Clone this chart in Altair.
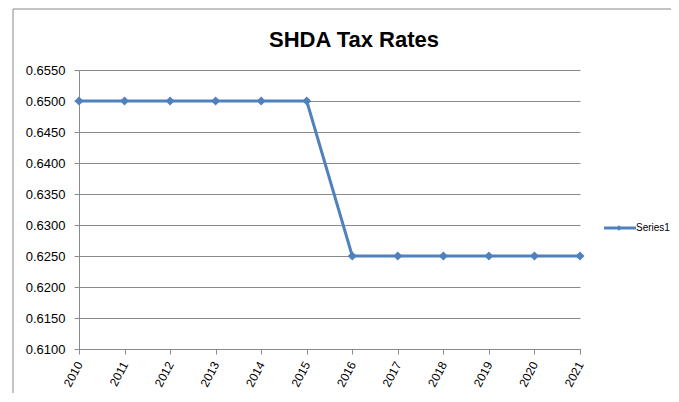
import altair as alt
import pandas as pd

years = ["2010", "2011", "2012", "2013", "2014", "2015",
         "2016", "2017", "2018", "2019", "2020", "2021"]
rates = [0.6500, 0.6500, 0.6500, 0.6500, 0.6500, 0.6500,
         0.6250, 0.6250, 0.6250, 0.6250, 0.6250, 0.6250]
series_names = ["Series1"]
chart_title = ["SHDA Tax Rates"]
y_ticks = [0.6100, 0.6150, 0.6200, 0.6250, 0.6300, 0.6350,
           0.6400, 0.6450, 0.6500, 0.6550]

BLUE = "#4F81BD"
GRID = "#8a8a8a"
FONT = "Liberation Sans"

df = pd.DataFrame({"Year": years, "Rate": rates, "Series": series_names[0]})
leg = pd.DataFrame({"Series": series_names})
ttl = pd.DataFrame({"Title": chart_title})

W, H = 501, 279

x_enc = alt.X(
    "Year:O",
    sort=years,
    scale=alt.Scale(type="point", padding=0),
    axis=alt.Axis(
        title=None, grid=False, labelAngle=-62, labelAlign="right",
        labelBaseline="middle", tickSize=5, labelPadding=8,
        domainColor=GRID, tickColor=GRID, labelColor="#000000",
        labelFont=FONT, labelFontSize=12,
    ),
)
y_enc = alt.Y(
    "Rate:Q",
    scale=alt.Scale(domain=[0.61, 0.655], nice=False, zero=False),
    axis=alt.Axis(
        title=None, values=y_ticks, format=".4f", grid=True,
        gridColor=GRID, gridWidth=1, tickSize=5, labelPadding=9,
        domainColor=GRID, tickColor=GRID, labelColor="#000000",
        labelFont=FONT, labelFontSize=13,
    ),
)

line = alt.Chart(df).mark_line(
    color=BLUE, strokeWidth=3,
    point=alt.OverlayMarkDef(shape="diamond", size=80, filled=True, color=BLUE, opacity=1),
).encode(x=x_enc, y=y_enc)

frame = alt.Chart(leg).mark_rect(
    fillOpacity=0, stroke="#888888", strokeWidth=1
).encode(
    x=alt.value(-66), x2=alt.value(640), y=alt.value(-61), y2=alt.value(360)
)

title_mark = alt.Chart(ttl).mark_text(
    align="center", baseline="alphabetic", font=FONT, fontSize=22,
    fontWeight="bold", color="#000000"
).encode(x=alt.value(275), y=alt.value(-23), text="Title:N")

leg_rule = alt.Chart(leg).mark_rule(color=BLUE, strokeWidth=3).encode(
    x=alt.value(525), x2=alt.value(557), y=alt.value(158)
)
leg_pt = alt.Chart(leg).mark_point(
    shape="diamond", size=30, filled=True, color=BLUE, opacity=1
).encode(x=alt.value(540), y=alt.value(158))
leg_txt = alt.Chart(leg).mark_text(
    align="left", baseline="middle", font=FONT, fontSize=10, color="#000000"
).encode(x=alt.value(557), y=alt.value(158), text="Series:N")

chart = alt.layer(frame, line, title_mark, leg_rule, leg_pt, leg_txt).properties(
    width=W, height=H,
    autosize=alt.AutoSizeParams(type="none"),
    padding={"left": 71, "top": 62, "right": 91, "bottom": 44},
).configure_view(stroke=None)

chart.save("out.html", embed_options={"renderer": "svg", "actions": False})
